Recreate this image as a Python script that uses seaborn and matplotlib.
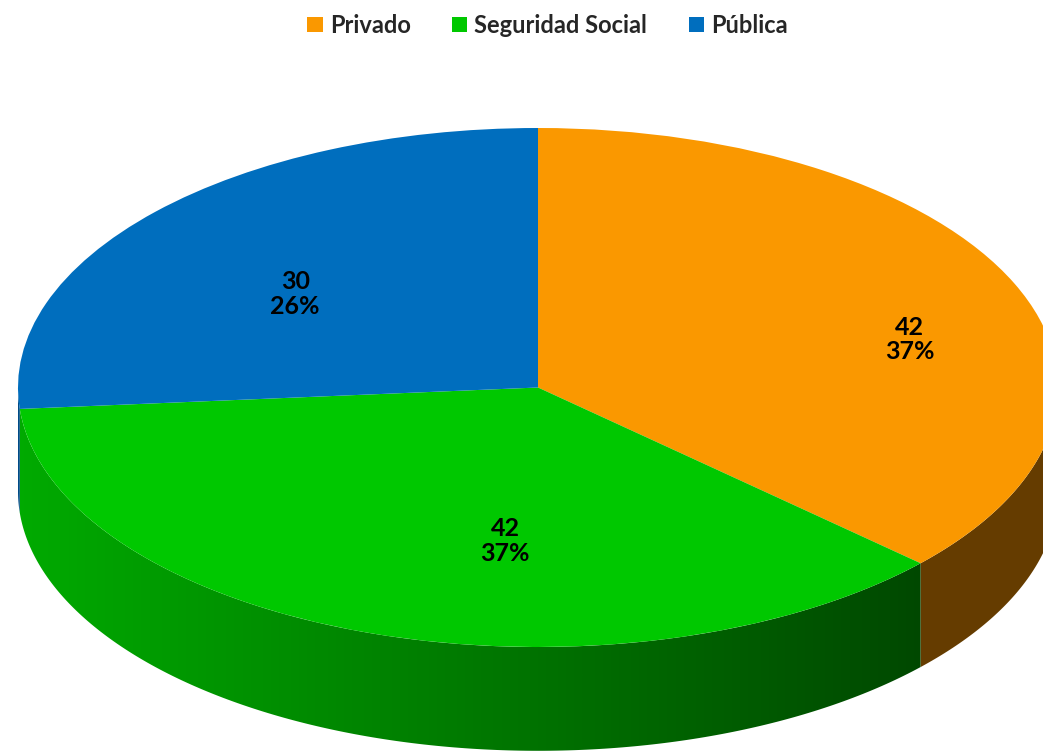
import numpy as np
import matplotlib
matplotlib.use("Agg")
import matplotlib.pyplot as plt
from matplotlib.patches import Polygon, Patch
from matplotlib.colors import LinearSegmentedColormap
import seaborn as sns

# ---- data ----
categories = ["Privado", "Seguridad Social", "Pública"]
values = [42, 42, 30]
top_colors = ["#FA9800", "#00C800", "#006EBE"]
side_colors = ["#653C00", None, "#004A86"]  # None -> gradient
green_grad = ["#00AA00", "#003A00"]
label_pos = [(0.715, 0.185), (-0.063, -0.59), (-0.467, 0.36)]

sns.set_theme(style="white")
plt.rcParams['font.family'] = ['Lato', 'DejaVu Sans']

W, H = 1043, 753
fig = plt.figure(figsize=(W / 100, H / 100), dpi=100)
ax = fig.add_axes([0, 0, 1, 1])

cx, cy, a, b = 538, 387.5, 520, 259.5
depth = 0.4

wedges, _ = ax.pie(values, colors=top_colors, startangle=90, counterclock=False,
                   radius=1, wedgeprops=dict(linewidth=0))
for w in wedges:
    w.set_zorder(3)

ax.set_aspect('auto')
ax.axis('off')

# side walls
total = sum(values)
start = 90.0
for i, v in enumerate(values):
    sweep = 360.0 * v / total
    t0 = start - sweep
    start = t0
    lo = t0 % 360
    hi = lo + sweep
    segs = []
    for base in (0, 360, -360):
        s = max(lo, 180 + base)
        e = min(hi, 360 + base)
        if e > s:
            segs.append((s, e))
    for s, e in segs:
        t = np.radians(np.linspace(s, e, 200))
        xs = np.cos(t)
        ys = np.sin(t)
        pts = np.concatenate([np.column_stack([xs, ys]),
                              np.column_stack([xs[::-1], ys[::-1] - depth])])
        if side_colors[i] is not None:
            poly = Polygon(pts, closed=True, facecolor=side_colors[i],
                           edgecolor='none', zorder=1)
            ax.add_patch(poly)
        else:
            poly = Polygon(pts, closed=True, facecolor='none',
                           edgecolor='none', zorder=1)
            ax.add_patch(poly)
            cmap = LinearSegmentedColormap.from_list("g", green_grad)
            grad = np.linspace(0, 1, 256).reshape(1, -1)
            im = ax.imshow(grad, cmap=cmap, extent=[-1, 1, -1 - depth, 0.1],
                           aspect='auto', zorder=1, interpolation='bilinear')
            im.set_clip_path(poly)

ax.set_xlim(-cx / a, (W - cx) / a)
ax.set_ylim((cy - H) / b, cy / b)

for v, (px, py) in zip(values, label_pos):
    ax.text(px, py, f"{v}\n{round(100 * v / total)}%", ha='center', va='center',
            fontsize=18, fontweight='bold', color='black', zorder=5,
            linespacing=1.1)

handles = [Patch(facecolor=c, edgecolor='none') for c in top_colors]
fig.legend(handles, categories, loc='upper center', bbox_to_anchor=(0.525, 1.01),
           ncol=3, frameon=False, prop=dict(size=17, weight='bold'),
           handlelength=0.65, handleheight=0.65, handletextpad=0.3,
           columnspacing=1.75)

fig.savefig("out.png", dpi=100)
